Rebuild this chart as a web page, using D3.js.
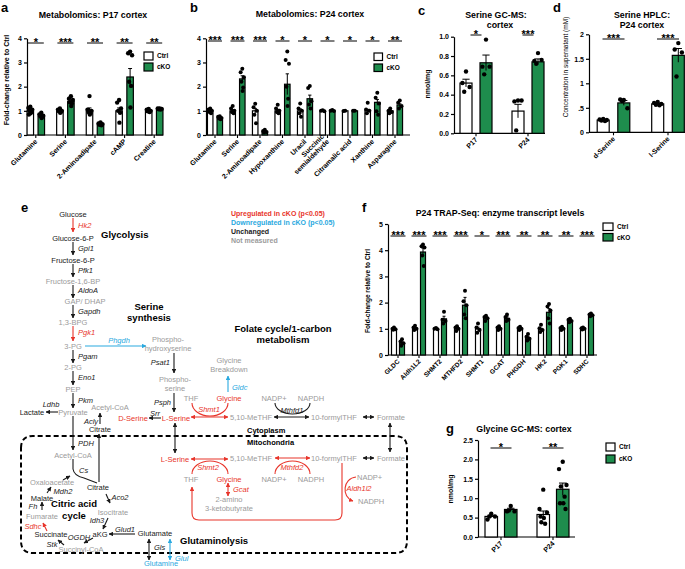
<!DOCTYPE html>
<html><head><meta charset="utf-8">
<script src="https://cdn.jsdelivr.net/npm/d3@7"></script>
<style>
body{margin:0;background:#fff;}
svg{font-family:"Liberation Sans",Arial,Helvetica,sans-serif;}
</style></head><body>
<svg id="fig" width="685" height="569"></svg>
<script>
// ---------------- DATA ----------------
// panel a
const aCats=["Glutamine","Serine","2-Aminoadipate","cAMP","Creatine"];
const aCtrl=[1.0,1.0,1.0,1.0,1.0];
const aCko=[0.78,1.38,0.45,2.4,1.08];
const aCtrlErr=[0.05,0.03,0.12,0.12,0.02];
const aCkoErr=[0.03,0.06,0.02,0.35,0.01];
const aCtrlPts=[[1.17,1.12,1.05,1.0,0.95,0.9,0.85],[1.1,1.05,1.0,0.98,0.95,0.92],[1.61,1.05,1.0,0.95,0.9,0.85],[1.45,1.34,1.1,1.0,0.92,0.51],[1.08,1.05,1.0,0.98,0.95]];
const aCkoPts=[[0.92,0.85,0.8,0.78,0.75,0.7],[1.6,1.5,1.45,1.35,1.3,1.2],[0.52,0.48,0.45,0.42,0.4],[3.45,3.38,3.3,2.2,2.03,1.14],[1.1,1.1,1.08,1.06,1.05]];
const aSig=["*","***","**","**","**"];
// panel b
const bCats=["Glutamine","Serine","2-Aminoadipate","Hypoxanthine","Uracil","Succinic\nsemialdehyde","Citramalic acid","Xanthine","Asparagine"];
const bCtrl=[1.0,1.0,1.0,1.0,1.0,1.0,1.0,1.0,1.0];
const bCko=[0.72,2.32,0.15,2.1,1.5,1.0,1.0,1.35,1.24];
const bCtrlErr=[0.03,0.05,0.1,0.06,0.08,0.01,0.01,0.06,0.03];
const bCkoErr=[0.02,0.13,0.02,0.43,0.15,0.01,0.01,0.12,0.05];
const bCtrlPts=[[1.1,1.05,1.0,0.95,0.9],[1.2,1.1,1.0,0.95,0.9],[1.29,1.15,1.0,0.84,0.49],[1.25,1.1,1.0,0.95,0.9],[1.3,1.1,1.0,0.9,0.75],[1.02,1.0,0.98],[1.0,0.99],[1.33,1.05,1.0,0.9],[1.1,1.0,0.95,0.9]];
const bCkoPts=[[0.78,0.75,0.7,0.68,0.65],[2.74,2.6,2.39,2.2,1.97,1.82],[0.22,0.17,0.12,0.1],[3.45,3.1,2.95,2.0,1.5,1.2],[2.03,1.94,1.4,1.26,1.1],[1.03,1.0,0.99],[1.0,1.0],[1.75,1.54,1.3,0.98,0.84],[1.43,1.33,1.19,1.1]];
const bSig=["***","***","***","*","*","*","*","*","**"];
// panel c
const cCats=["P17","P24"];
const cCtrl=[0.52,0.23];
const cCko=[0.73,0.74];
const cCtrlErr=[0.04,0.07];
const cCkoErr=[0.08,0.03];
const cCtrlPts=[[0.64,0.52,0.48,0.43],[0.34,0.33,0.34,0.03]];
const cCkoPts=[[0.97,0.69,0.69,0.61],[0.83,0.75,0.76,0.72]];
const cSig=["*","***"];
// panel d
const dCats=["d-Serine","l-Serine"];
const dCtrl=[0.25,0.58];
const dCko=[0.6,1.57];
const dCtrlErr=[0.01,0.015];
const dCkoErr=[0.05,0.14];
const dCtrlPts=[[0.27,0.26,0.25,0.24,0.23],[0.62,0.6,0.58,0.56,0.55]];
const dCkoPts=[[0.66,0.67,0.49,0.64],[1.82,1.69,1.63,1.14]];
const dSig=["***","***"];
// panel f
const fCats=["GLDC","Aldh1L2","SHMT2","MTHFD2","SHMT1","GCAT","PHGDH","HK2","PGK1","SDHC"];
const fCtrl=[1.0,1.0,1.0,1.0,1.0,1.0,1.0,0.97,1.0,1.0];
const fCko=[0.45,3.93,1.38,1.9,1.42,1.4,0.65,1.63,1.31,1.54];
const fCtrlErr=[0.02,0.03,0.02,0.03,0.06,0.03,0.02,0.05,0.02,0.02];
const fCkoErr=[0.05,0.15,0.1,0.3,0.04,0.06,0.05,0.14,0.04,0.03];
const fCtrlPts=[[1.05,1.0,0.98,0.96],[1.12,1.05,1.0,0.95],[1.03,1.0,0.98],[1.1,1.05,1.0,0.92],[1.2,1.05,0.95,0.85],[1.1,1.05,1.0,0.95],[1.08,1.03,1.0,0.95],[1.15,1.02,0.95,0.88],[1.08,1.03,1.0,0.95],[1.05,1.02,1.0,0.97]];
const fCkoPts=[[0.6,0.52,0.45,0.35],[4.22,4.15,4.1,3.8,3.4],[1.65,1.35,1.3,1.2],[2.45,2.05,1.9,1.55,1.4],[1.5,1.45,1.4,1.3],[1.55,1.45,1.35,1.3],[0.8,0.7,0.62,0.55],[1.95,1.85,1.7,1.4,1.2],[1.38,1.35,1.3,1.25],[1.58,1.55,1.52,1.48]];
const fSig=["***","***","***","***","*","***","**","**","**","***"];
// panel g
const gCats=["P17","P24"];
const gCtrl=[0.53,0.58];
const gCko=[0.71,1.23];
const gCtrlErr=[0.03,0.09];
const gCkoErr=[0.03,0.16];
const gCtrlPts=[[0.6,0.45,0.53,0.53],[1.22,0.72,0.63,0.38,0.34,0.49,0.53]];
const gCkoPts=[[0.8,0.66,0.66,0.68],[1.94,1.75,1.34,1.3,1.04,0.87,0.87,0.72]];
const gSig=["*","**"];
const groups=["Ctrl","cKO"];

// ---------------- DRAW ----------------
const svg=d3.select("#fig");
const GREEN="#1e8d4d",RED="#e8352b",BLUE="#2aa9e0",GRAY="#9b9b9b",BLK="#1a1a1a";
const jit=[0,-0.3,0.3,-0.15,0.15,0.05,-0.22,0.22];

function barPanel(c){
  const g=svg.append("g");
  const x=d3.scaleBand().domain(c.cats).range(c.xr);
  const cx=d=>x(d)+x.bandwidth()/2;
  const y=d3.scaleLinear().domain([0,c.ymax]).range(c.yr);
  const ya=g.append("g").attr("transform",`translate(${c.ax0},0)`)
    .call(d3.axisLeft(y).tickValues(c.ticks).tickFormat(c.fmt).tickSize(3).tickSizeOuter(0).tickPadding(2));
  ya.selectAll("text").attr("font-size",c.tfs||7).attr("font-weight","bold").attr("fill","#000").attr("font-family",null);
  ya.selectAll("line,path").attr("stroke","#000").attr("stroke-width",1.2);
  const xa=g.append("g").attr("transform",`translate(0,${y(0)})`)
    .call(d3.axisBottom(x).tickSize(3).tickSizeOuter(0));
  xa.select(".domain").remove();
  xa.append("line").attr("x1",c.ax0).attr("x2",c.ax1).attr("stroke","#000").attr("stroke-width",1.2);
  xa.selectAll(".tick line").attr("stroke","#000").attr("stroke-width",1.1);
  xa.selectAll(".tick text").each(function(d){
    const t=d3.select(this);
    t.text(null).attr("y",0).attr("dy",0).attr("text-anchor","end")
     .attr("font-size",c.xfs||7).attr("font-weight","bold").attr("fill","#000").attr("font-family",null)
     .attr("transform",`translate(${c.lx||2},${c.ly||7}) rotate(-45)`);
    const lines=d.split("\n");
    lines.forEach((l,i)=>t.append("tspan").attr("x",0).attr("dy",i===0?(-(lines.length-1))+"em":"1em").text(l));
  });
  const rows=[];
  c.cats.forEach((cat,i)=>{
    rows.push({cat,k:0,v:c.ctrl[i],e:c.ctrlErr[i],p:c.ctrlPts[i]});
    rows.push({cat,k:1,v:c.cko[i],e:c.ckoErr[i],p:c.ckoPts[i]});
  });
  const bx=r=>cx(r.cat)+(r.k?1:-1)*c.off;
  g.selectAll("rect.bar").data(rows).join("rect").attr("class","bar")
    .attr("x",r=>bx(r)-c.bw/2).attr("width",c.bw)
    .attr("y",r=>y(r.v)).attr("height",r=>y(0)-y(r.v))
    .attr("fill",r=>r.k?GREEN:"#fff").attr("stroke","#000").attr("stroke-width",1.2);
  g.selectAll("line.err").data(rows).join("line").attr("class","err")
    .attr("x1",bx).attr("x2",bx).attr("y1",r=>y(Math.max(0,r.v-r.e))).attr("y2",r=>y(r.v+r.e))
    .attr("stroke","#000").attr("stroke-width",1);
  g.selectAll("line.cap").data(rows).join("line").attr("class","cap")
    .attr("x1",r=>bx(r)-c.bw*0.3).attr("x2",r=>bx(r)+c.bw*0.3).attr("y1",r=>y(r.v+r.e)).attr("y2",r=>y(r.v+r.e))
    .attr("stroke","#000").attr("stroke-width",1);
  const pts=rows.flatMap(r=>r.p.map((v,j)=>({x:bx(r)+jit[j%jit.length]*c.bw,v})));
  g.selectAll("circle.pt").data(pts).join("circle").attr("class","pt")
    .attr("cx",p=>p.x).attr("cy",p=>y(p.v)).attr("r",c.r||2.2).attr("fill","#000");
  const sg=g.selectAll("g.sig").data(c.cats).join("g").attr("class","sig");
  sg.append("line").attr("x1",d=>cx(d)-c.sw).attr("x2",d=>cx(d)+c.sw).attr("y1",c.sigY).attr("y2",c.sigY)
    .attr("stroke","#000").attr("stroke-width",1);
  sg.append("text").attr("x",cx).attr("y",c.sigY+2.6).attr("text-anchor","middle")
    .attr("font-size",c.sfs||11).attr("font-weight","bold").text((d,i)=>c.sig[i]);
  if(c.leg){
    const lg=g.append("g").attr("transform",`translate(${c.leg[0]},${c.leg[1]})`);
    groups.forEach((gn,i)=>{
      lg.append("rect").attr("x",0).attr("y",i*c.leg[2]).attr("width",c.leg[3]).attr("height",c.leg[4])
        .attr("fill",i?GREEN:"#fff").attr("stroke","#000").attr("stroke-width",1.2);
      lg.append("text").attr("x",c.leg[3]+4).attr("y",i*c.leg[2]+c.leg[4]/2).attr("dy","0.35em")
        .attr("font-size",6.5).attr("font-weight","bold").text(gn);
    });
  }
  if(c.ylab){
    g.append("text").attr("transform",`translate(${c.ylab[1]},${c.ylab[2]}) rotate(-90)`)
      .attr("text-anchor","middle").attr("dy","0.35em").attr("font-size",c.ylab[3]).attr("font-weight",c.ylab[4]||"bold").text(c.ylab[0]);
  }
  (c.title||[]).forEach(t=>{
    g.append("text").attr("x",t[1]).attr("y",t[2]).attr("dy","0.35em").attr("text-anchor","middle")
      .attr("font-size",8.8).attr("font-weight","bold").text(t[0]);
  });
}

barPanel({cats:aCats,ctrl:aCtrl,cko:aCko,ctrlErr:aCtrlErr,ckoErr:aCkoErr,ctrlPts:aCtrlPts,ckoPts:aCkoPts,sig:aSig,
  xr:[21,169],ax0:27,ax1:163,yr:[135,38.3],ymax:4,ticks:[0,1,2,3,4],fmt:d3.format("d"),bw:6.5,off:5.5,sigY:43,sw:8,
  leg:[144,52,11,9,8],ylab:["Fold-change relative to Ctrl",7,80,7],title:[["Metabolomics: P17 cortex",93,15]]});
barPanel({cats:bCats,ctrl:bCtrl,cko:bCko,ctrlErr:bCtrlErr,ckoErr:bCkoErr,ctrlPts:bCtrlPts,ckoPts:bCkoPts,sig:bSig,
  xr:[203.75,406.25],ax0:206,ax1:410,yr:[135,38.3],ymax:4,ticks:[0,1,2,3,4],fmt:d3.format("d"),bw:5.5,off:4.8,sigY:41,sw:7,
  leg:[374,53,11,8.5,7.5],title:[["Metabolomics: P24 cortex",310,14]],r:2});
barPanel({cats:cCats,ctrl:cCtrl,cko:cCko,ctrlErr:cCtrlErr,ckoErr:cCkoErr,ctrlPts:cCtrlPts,ckoPts:cCkoPts,sig:cSig,
  xr:[450,554],ax0:454,ax1:545,yr:[133.3,36.7],ymax:1,ticks:[0,0.2,0.4,0.6,0.8,1.0],fmt:d3.format(".1f"),bw:12,off:10,sigY:35,sw:5.5,
  ylab:["nmol/mg",428,84,7],title:[["Serine GC-MS:",496,15],["cortex",500,25]]});
barPanel({cats:dCats,ctrl:dCtrl,cko:dCko,ctrlErr:dCtrlErr,ckoErr:dCkoErr,ctrlPts:dCtrlPts,ckoPts:dCkoPts,sig:dSig,
  xr:[586.25,695.25],ax0:589,ax1:685,yr:[132.3,34.3],ymax:2,ticks:[0,0.5,1,1.5,2],fmt:d=>d===0?"0":d===0.5?".5":String(d),bw:12,off:10.3,sigY:39,sw:11,
  ylab:["Concentration in supernatant (mM)",566,67,6.5,"normal"],title:[["Serine HPLC:",642,15],["P24 cortex",642,25]]});
barPanel({cats:fCats,ctrl:fCtrl,cko:fCko,ctrlErr:fCtrlErr,ckoErr:fCkoErr,ctrlPts:fCtrlPts,ckoPts:fCkoPts,sig:fSig,
  xr:[387.5,597.5],ax0:388,ax1:597,yr:[355,224],ymax:5,ticks:[0,1,2,3,4,5],fmt:d3.format("d"),bw:5,off:4,sigY:236,sw:7.5,xfs:6.5,
  leg:[603,223,10.5,10,7.5],ylab:["Fold-change relative to Ctrl",368,291,6.5],title:[["P24 TRAP-Seq: enzyme transcript levels",500,213]],r:2});
barPanel({cats:gCats,ctrl:gCtrl,cko:gCko,ctrlErr:gCtrlErr,ckoErr:gCkoErr,ctrlPts:gCtrlPts,ckoPts:gCkoPts,sig:gSig,
  xr:[475,579],ax0:478,ax1:575,yr:[537,440],ymax:2.5,ticks:[0,0.5,1,1.5,2,2.5],fmt:d3.format(".1f"),bw:12.5,off:9.75,sigY:448,sw:10.5,
  leg:[606,443,12,9,8],ylab:["nmol/mg",451,489,7],title:[["Glycine GC-MS: cortex",524,429]]});

[["a",1,12],["b",190,12],["c",418,15],["d",553,12],["e",21,212],["f",362,212],["g",446,433]].forEach(l=>{
  svg.append("text").attr("x",l[1]).attr("y",l[2]).attr("font-size",13).attr("font-weight","bold").text(l[0]);
});

// ---------------- PANEL e: pathway diagram ----------------
const eText=[
 ["Glucose",73,214,"k","m"],["Hk2",78,225,"ri","s"],["Glucose-6-P",73,238,"k","m"],["Glycolysis",101,235,"h","s"],
 ["Gpi1",78,248,"ki","s"],["Fructose-6-P",73,260,"k","m"],["Pfk1",78,270,"ki","s"],["Fructose-1,6-BP",73,281,"g","m"],
 ["AldoA",78,290,"ki","s"],["GAP/ DHAP",85,301,"g","m"],["Gapdh",78,311,"ki","s"],["1,3-BPG",73,322,"g","m"],
 ["Pgk1",78,332,"ri","s"],["3-PG",73,346,"g","m"],["Serine",149,307,"h","m"],["synthesis",149,318,"h","m"],
 ["Phgdh",119,340,"bi","m"],["Phospho-",168,339,"g","m"],["hydroxyserine",168,348,"g","m"],["Pgam",78,356,"ki","s"],
 ["2-PG",73,367,"g","m"],["Psat1",170,362,"ki","e"],["Eno1",78,377,"ki","s"],["PEP",73,389,"g","m"],["Pkm",78,400,"ki","s"],
 ["Ldhb",51,404,"ki","m"],["Lactate",32,412,"k","m"],["Pyruvate",73,412,"g","m"],["Acetyl-CoA",110,407,"g","m"],
 ["Acly",91,421,"ki","m"],["Citrate",100,429,"k","m"],["PDH",78,443,"ki","s"],["Acetyl-CoA",73,455,"g","m"],
 ["Cs",79,470,"ki","s"],["Oxaloacetate",52,482,"g","m"],["Citrate",98,487,"k","m"],["Mdh2",63,491,"ki","m"],
 ["Malate",42,498,"k","m"],["Aco2",120,497,"ki","m"],["Citric acid",74,504,"h","m"],["Fh",33,506,"ki","m"],
 ["Isocitrate",113,512,"g","m"],["cycle",74,516,"h","m"],["Fumarate",42,516,"g","m"],["Idh3",97,520,"ki","m"],
 ["Sdhc",33,526,"ri","m"],["Glud1",125,529,"ki","m"],["Glutamate",155,533,"k","m"],["Succinate",51,534,"k","m"],
 ["aKG",100,534,"k","m"],["OGDH",79,537,"ki","m"],["Glutaminolysis",180,541,"h","s"],["Stk",52,544,"ki","m"],
 ["Gls",154,547,"ki","s"],["Succinyl-CoA",81,549,"g","m"],["Glul",175,558,"bi","s"],["Glutamine",161,563.5,"b","m"],
 ["Folate cycle/1-carbon",283,329,"h","m"],["metabolism",283,340,"h","m"],["Glycine",229,360,"g","m"],["Breakdown",229,369,"g","m"],
 ["Gldc",232,387,"bi","s"],["Phospho-",175,379,"g","m"],["serine",175,388,"g","m"],["Psph",171,402,"ki","e"],
 ["THF",191,398,"g","m"],["Glycine",229,398,"r","m"],["Shmt1",209,409,"ri","m"],["NADP+",274,398,"g","m"],
 ["NAPDH",311,398,"g","m"],["Mthfd1",292,410,"ki","m"],["Srr",155,413,"ki","m"],["D-Serine",133,418,"r","m"],
 ["L-Serine",176,418,"r","m"],["5,10-MeTHF",230,417,"g","s"],["10-formylTHF",311,417,"g","s"],["Formate",377,417,"g","s"],
 ["Cytoplasm",247,430,"hs","s"],["Mitochondria",247,442,"hs","s"],["L-Serine",175,459,"r","m"],["5,10-MeTHF",230,458,"g","s"],
 ["10-formylTHF",311,458,"g","s"],["Formate",377,458,"g","s"],["Shmt2",208,467,"ri","m"],["Mthfd2",292,467,"ri","m"],
 ["THF",191,479,"g","m"],["Glycine",229,479,"r","m"],["NADP+",274,479,"g","m"],["NADPH",311,479,"g","m"],
 ["NADP+",357,477,"g","s"],["Aldh1l2",359,488,"ri","m"],["Gcat",233,489,"ri","s"],["2-amino",229,499,"g","m"],
 ["NADPH",358,501,"g","s"],["3-ketobutyrate",229,508,"g","m"],
 ["Upregulated in cKO (p<0.05)",231,214,"Lr","s"],["Downregulated in cKO (p<0.05)",231,223,"Lb","s"],
 ["Unchanged",231,232,"Lk","s"],["Not measured",231,241,"Lg","s"]
];
const eArrows=[
 [73,218,73,232,"r",1],[73,242,73,255,"k",1],[73,264,73,277,"k",1],[73,285,73,298,"k",1],[73,305,73,318,"k",1],
 [73,326,73,341,"r",1],[73,350,73,363,"k",1],[73,371,73,385,"k",1],[73,393,73,408,"k",1],[85,346,146,346,"b",1],
 [174,353,174,373,"k",1],[174,393,174,412,"k",1],[58,412,46,412,"k",1],[100,424,100,413,"k",1],[73,416,73,450,"k",1],
 [99,482,99,434,"k",1],[63,480,70,476,"k",1],[47,493,51,487,"k",1],[42,510,42,502,"k",1],[47,531,43,523,"r",1],
 [106,494,110,503,"k",1],[108,518,103,529,"k",1],[135,534,109,534,"k",1],[93,538,84,543,"k",1],[64,545,58,540,"k",1],
 [149,539,149,560,"k",2],[170,539,170,560,"b",2],[228,392,228,376,"b",1],[161,418,149,418,"k",1],[191,417,228,417,"r",2],
 [274,417,309,417,"k",2],[363,417,374,417,"k",2],[390,423,390,452,"k",2],[175,423,175,453,"k",2],[191,459,228,459,"r",2],
 [228,483,228,496,"r",2],[275,458,310,458,"r",2],[363,458,374,458,"k",2]
];
const eCurves=[
 ["M73,459 L73,469 Q74,476 84,478 L97,483","k",0],
 ["M192,403 A18,13 0 0 0 228,403","r",0],
 ["M275,403 A17.5,11 0 0 0 310,403","k",0],
 ["M192,474 A18,13 0 0 1 228,474","r",0],
 ["M275,474 A17.5,13 0 0 1 310,474","r",0],
 ["M342,463 L342,513 Q342,520 335,520 L199,520 Q192,520 192,513 L192,487","r",1],
 ["M356,477 C343,478 341,497 353,501","r",1]
];
const col={k:BLK,r:RED,b:BLUE,g:GRAY};
const defs=svg.append("defs");
Object.entries(col).forEach(([k,c])=>{
  defs.append("marker").attr("id","ar"+k).attr("viewBox","0 0 10 10").attr("refX",9).attr("refY",5)
    .attr("markerWidth",4.5).attr("markerHeight",4.5).attr("markerUnits","userSpaceOnUse").attr("orient","auto-start-reverse")
    .append("path").attr("d","M0,0 L10,5 L0,10 z").attr("fill",c);
});
const eg=svg.append("g");
eg.append("path").attr("d","M21,448 Q21,436 33,436 L395,436 Q407,436 407,448 L407,541 Q407,553 395,553 L33,553 Q21,553 21,541 Z")
  .attr("fill","none").attr("stroke","#000").attr("stroke-width",2).attr("stroke-dasharray","5,3");
eg.selectAll("line.ar").data(eArrows).join("line").attr("class","ar")
  .attr("x1",d=>d[0]).attr("y1",d=>d[1]).attr("x2",d=>d[2]).attr("y2",d=>d[3])
  .attr("stroke",d=>col[d[4]]).attr("stroke-width",1.1)
  .attr("marker-end",d=>d[5]?`url(#ar${d[4]})`:null).attr("marker-start",d=>d[5]===2?`url(#ar${d[4]})`:null);
eg.selectAll("path.cv").data(eCurves).join("path").attr("class","cv").attr("d",d=>d[0]).attr("fill","none")
  .attr("stroke",d=>col[d[1]]).attr("stroke-width",1.1).attr("marker-end",d=>d[2]?`url(#ar${d[1]})`:null);
eg.selectAll("text").data(eText).join("text")
  .attr("x",d=>d[1]).attr("y",d=>d[2]).attr("dy","0.35em")
  .attr("text-anchor",d=>({s:"start",m:"middle",e:"end"})[d[4]])
  .attr("font-size",d=>d[3]==="h"?9.5:d[3]==="hs"?7.5:d[3][0]==="L"?7:7.5)
  .attr("font-weight",d=>(d[3][0]==="h"||d[3][0]==="L")?"bold":"normal")
  .attr("font-style",d=>d[3].endsWith("i")?"italic":"normal")
  .attr("fill",d=>{const s=d[3]; if(s[0]==="h")return "#000"; if(s[0]==="L")return col[s[1]]; return col[s[0]];})
  .text(d=>d[0]);
</script>
</body></html>
